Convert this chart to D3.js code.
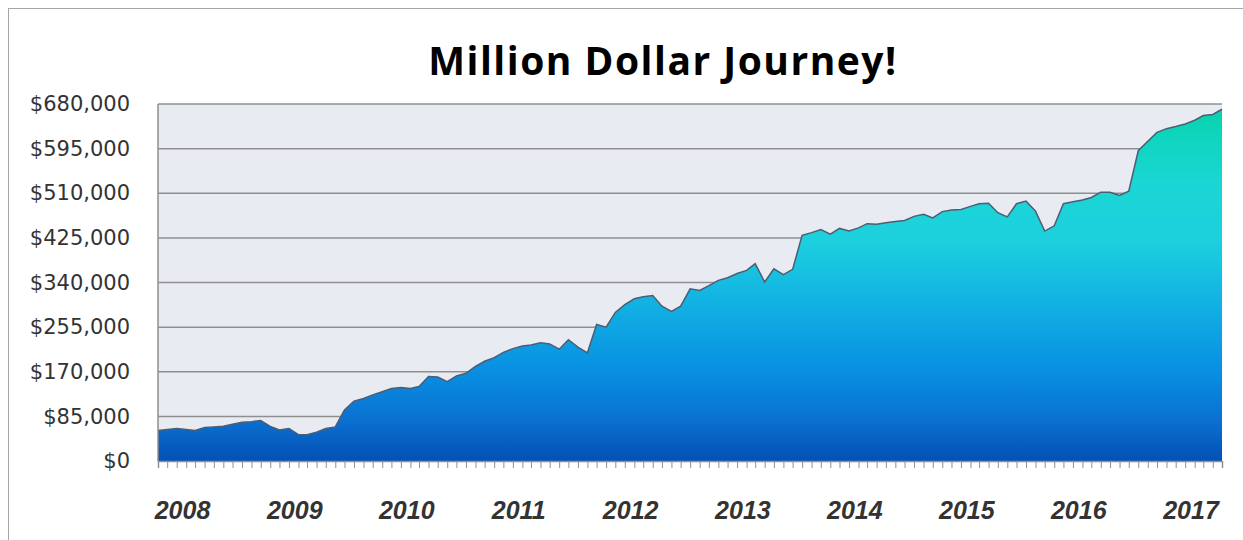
<!DOCTYPE html>
<html>
<head>
<meta charset="utf-8">
<script src="https://cdn.jsdelivr.net/npm/d3@7"></script>
<style>
  body { margin: 0; background: #fff; }
  svg { display: block; }
</style>
</head>
<body>
<svg id="chart"></svg>
<script>
// monthly net worth, first point Nov 2007
const startMonth = new Date(2007, 10, 1);
const netWorth = [
  58000, 60000, 62000, 60000, 58000, 64000, 65000, 66000, 70000, 74000,
  75000, 77000, 66000, 59000, 62000, 50000, 50000, 55000, 62000, 65000,
  97000, 114000, 119000, 126000, 132000, 138000, 140000, 138000, 142000, 161000,
  160000, 151000, 162000, 167000, 180000, 190000, 197000, 207000, 214000, 219000,
  221000, 225000, 223000, 213000, 231000, 217000, 206000, 260000, 255000, 283000,
  298000, 309000, 313000, 315000, 295000, 285000, 295000, 328000, 325000, 334000,
  344000, 349000, 357000, 363000, 376000, 341000, 366000, 355000, 365000, 430000,
  435000, 441000, 432000, 443000, 438000, 444000, 452000, 451000, 454000, 456000,
  458000, 466000, 470000, 463000, 475000, 478000, 479000, 485000, 490000, 491000,
  473000, 465000, 490000, 495000, 476000, 438000, 448000, 490000, 494000, 497000,
  502000, 512000, 512000, 506000, 514000, 591000, 609000, 626000, 633000, 637000,
  642000, 649000, 658000, 660000, 670000
];
const yTicks = [0, 85000, 170000, 255000, 340000, 425000, 510000, 595000, 680000];
const yearLabels = ["2008", "2009", "2010", "2011", "2012", "2013", "2014", "2015", "2016", "2017"];
const title = "Million Dollar Journey!";

const data = netWorth.map((v, i) => ({
  date: d3.timeMonth.offset(startMonth, i),
  value: v
}));

const width = 1243;
const height = 540;
const margin = { top: 104, right: 21, bottom: 79, left: 158 };

const svg = d3.select("#chart")
  .attr("width", width)
  .attr("height", height);

// outer frame
svg.append("rect")
  .attr("x", 8.5).attr("y", 8.5)
  .attr("width", width + 20).attr("height", height + 20)
  .attr("fill", "none")
  .attr("stroke", "#a6a6a6");

const x = d3.scaleTime()
  .domain(d3.extent(data, d => d.date))
  .range([margin.left, width - margin.right]);

const y = d3.scaleLinear()
  .domain([0, 680000])
  .range([height - margin.bottom, margin.top]);

// gradient for the area
const defs = svg.append("defs");
const grad = defs.append("linearGradient")
  .attr("id", "fillGrad")
  .attr("gradientUnits", "userSpaceOnUse")
  .attr("x1", 0).attr("x2", 0)
  .attr("y1", y(0)).attr("y2", y(680000));
[
  [0, "#0450b4"],
  [0.12, "#0a72d2"],
  [0.25, "#088fe2"],
  [0.45, "#12b3e3"],
  [0.62, "#1dd0de"],
  [0.78, "#1ad6d4"],
  [0.9, "#0fd5c0"],
  [1, "#05d3a8"]
].forEach(([o, c]) => grad.append("stop").attr("offset", o).attr("stop-color", c));

// plot background
svg.append("rect")
  .attr("x", margin.left).attr("y", margin.top)
  .attr("width", width - margin.left - margin.right)
  .attr("height", height - margin.top - margin.bottom)
  .attr("fill", "#e8ebf2");

// gridlines
svg.append("g")
  .selectAll("line")
  .data(yTicks.filter(t => t > 0))
  .join("line")
  .attr("x1", margin.left).attr("x2", width - margin.right)
  .attr("y1", d => y(d)).attr("y2", d => y(d))
  .attr("stroke", "#8f8f8f")
  .attr("stroke-width", 1.5);

const area = d3.area()
  .x(d => x(d.date))
  .y0(y(0))
  .y1(d => y(d.value));

const line = d3.line()
  .x(d => x(d.date))
  .y(d => y(d.value));

svg.append("path")
  .datum(data)
  .attr("fill", "url(#fillGrad)")
  .attr("d", area);

svg.append("path")
  .datum(data)
  .attr("fill", "none")
  .attr("stroke", "#4d5d72")
  .attr("stroke-width", 1.5)
  .attr("d", line);

// left axis line
svg.append("line")
  .attr("x1", margin.left).attr("x2", margin.left)
  .attr("y1", margin.top).attr("y2", y(0))
  .attr("stroke", "#8f8f8f")
  .attr("stroke-width", 1.5);

// y labels
const yAxis = svg.append("g")
  .attr("transform", `translate(${margin.left}, 0)`)
  .call(d3.axisLeft(y)
    .tickValues(yTicks)
    .tickSize(0)
    .tickPadding(28)
    .tickFormat(d => "$" + d3.format(",")(d)));
yAxis.select(".domain").remove();
yAxis.selectAll("text")
  .attr("font-family", "DejaVu Sans, sans-serif")
  .attr("font-size", 21)
  .attr("fill", "#333");

// x axis: monthly ticks
const xAxis = svg.append("g")
  .attr("transform", `translate(0, ${y(0)})`)
  .call(d3.axisBottom(x)
    .tickValues(data.map(d => d.date))
    .tickSize(7)
    .tickFormat(""));
xAxis.select(".domain")
  .attr("stroke", "#8f8f8f")
  .attr("stroke-width", 1.5);
xAxis.selectAll(".tick line")
  .attr("stroke", "#8f8f8f");

// year labels
svg.append("g")
  .selectAll("text")
  .data(yearLabels)
  .join("text")
  .attr("x", d => x(new Date(+d, 0, 20)))
  .attr("y", 519)
  .attr("text-anchor", "middle")
  .attr("font-family", "Liberation Sans, Arial, sans-serif")
  .attr("font-weight", "bold")
  .attr("font-style", "italic")
  .attr("font-size", 25)
  .attr("fill", "#333")
  .text(d => d);

// title
svg.append("text")
  .attr("x", 663)
  .attr("y", 75)
  .attr("text-anchor", "middle")
  .attr("font-family", "Open Sans, sans-serif")
  .attr("font-weight", "bold")
  .attr("font-size", 39)
  .attr("letter-spacing", 1.5)
  .attr("fill", "#000")
  .text(title);
</script>
</body>
</html>
